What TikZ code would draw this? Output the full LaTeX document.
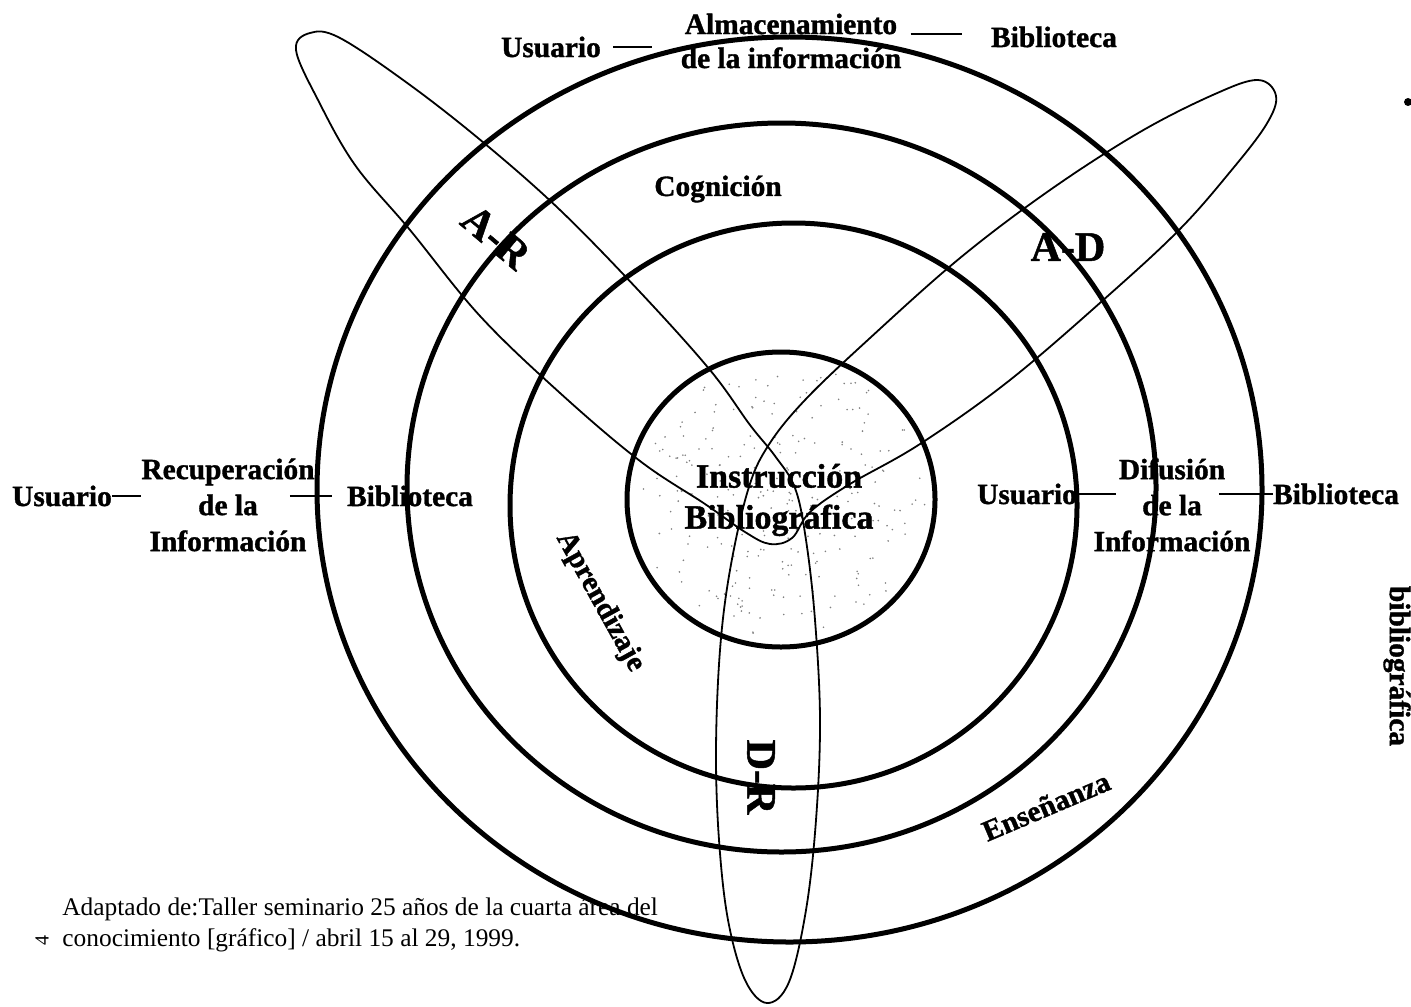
\documentclass[tikz,border=0pt]{standalone}
\usepackage{fontspec}
\setmainfont{Liberation Serif}[BoldFeatures={FakeBold=1.2}]
\usetikzlibrary{positioning}

\tikzset{
  ring/.style={line width=2.5pt},
  petal/.style={line width=0.9pt},
  link/.style={line width=1pt},
  lbl/.style={font=\bfseries\fontsize{14.7}{18}\selectfont, inner sep=0pt, align=center},
  biglbl/.style={font=\bfseries\fontsize{21}{24}\selectfont, inner sep=0pt},
  note/.style={font=\fontsize{12.7}{15.5}\selectfont, inner sep=0pt, anchor=base west}
}

\begin{document}
\begin{tikzpicture}[x=0.5pt,y=-0.5pt]
  \useasboundingbox (0,0) rectangle (1411,1006);

  % anillos
  \coordinate (core) at (781,499.5);
  \draw[ring] (789.5,489.5) ellipse [x radius=472.5, y radius=452.5];
  \draw[ring] (781.5,487.5) ellipse [x radius=374.5, y radius=364.5];
  \draw[ring] (793.5,505.5) ellipse [x radius=283.5, y radius=282.5];
  \draw[ring] (core) ellipse [x radius=154, y radius=147.5];

  % punteado del centro
  \pgfmathsetseed{11}
  \foreach \k in {1,...,260}{
    \pgfmathsetmacro\ang{360*rnd}
    \pgfmathsetmacro\rad{0.96*sqrt(rnd)}
    \fill[black!50] (core) ++(\ang:{150*\rad} and {143*\rad}) circle (0.45pt);
  }

  % los tres lazos (A-D, A-R, D-R)
  \draw[petal] plot[smooth cycle, tension=0.6] coordinates {
    (767,1003) (745,980) (728,920) (719,840) (716,750) (720,650) (730,570)
    (748,490) (768,446) (805,400) (870,338) (960,258) (1050,190) (1140,132)
    (1215,94) (1258,80) (1276,96) (1266,125) (1230,172) (1180,229) (1110,294)
    (1010,380) (920,444) (850,484) (810,512) (792,538) (770,544) (745,532)
    (705,504) (640,461) (560,393) (480,316) (410,230) (355,165) (318,100)
    (296,50) (310,33) (340,38) (410,85) (484,143) (560,210) (640,292)
    (710,370) (750,425) (775,456) (795,488) (806,540) (815,620) (820,720)
    (816,820) (806,910) (789,982)};

  % arriba
  \node[lbl] (usrA) at (551,47) {Usuario};
  \node[lbl, font=\bfseries\fontsize{14.7}{17}\selectfont] (alm) at (791,41) {Almacenamiento\\de la información};
  \node[lbl] (bibA) at (1054,37) {Biblioteca};
  \draw[link] ([xshift=6pt]usrA.east) -- ([xshift=-14pt]usrA.east -| alm.west);
  \draw[link] ([xshift=4.5pt,yshift=1.5pt]bibA.west -| alm.east) -- ([xshift=-14.5pt,yshift=1.5pt]bibA.west);

  % izquierda
  \node[lbl] (usrL) at (62,496) {Usuario};
  \node[lbl] (rec) at (228,505) {Recuperación\\de la\\Información};
  \node[lbl] (bibL) at (410,496) {Biblioteca};
  \draw[link] (usrL.east) -- (usrL.east -| rec.west);
  \draw[link] ([xshift=-12.5pt]rec.east |- bibL.west) -- ([xshift=-7.5pt]bibL.west);

  % derecha
  \node[lbl] (usrR) at (1027,494) {Usuario};
  \node[lbl] (dif) at (1172,505) {Difusión\\de la\\Información};
  \node[lbl] (bibR) at (1336,494) {Biblioteca};
  \draw[link] (usrR.east) -- ([xshift=11.5pt]usrR.east -| dif.west);
  \draw[link] ([xshift=-16pt]dif.east |- bibR.west) -- (bibR.west);

  % centro y anillos
  \node[lbl, font=\bfseries\fontsize{17}{20.5}\selectfont] (instr) at (779,500) {Instrucción\\Bibliográfica};
  \node[lbl] (cog) at (718,189) {Cognición};
  \node[lbl, rotate=-61] (apr) at (600,602) {Aprendizaje};
  \node[lbl, rotate=23] (ens) at (1046,806) {Enseñanza};
  \node[biglbl, rotate=-40] (ar) at (496,237) {A-R};
  \node[biglbl] (ad) at (1068,247) {A-D};
  \node[biglbl, rotate=-90] (dr) at (761,777) {D-R};
  \node[lbl, rotate=-90] (side) at (1397,666) {bibliográfica};

  % nota al pie
  \node[note] (fnA) at (62,915) {Adaptado de:Taller seminario 25 años de la cuarta área del};
  \node[note] (fnB) at (62,946) {conocimiento [gráfico] / abril 15 al 29, 1999.};
  \node[font=\fontsize{10}{12}\selectfont, rotate=90, inner sep=0pt] (num) at (42,940) {4};
  \fill (1408,102) circle (2pt);
\end{tikzpicture}
\end{document}
